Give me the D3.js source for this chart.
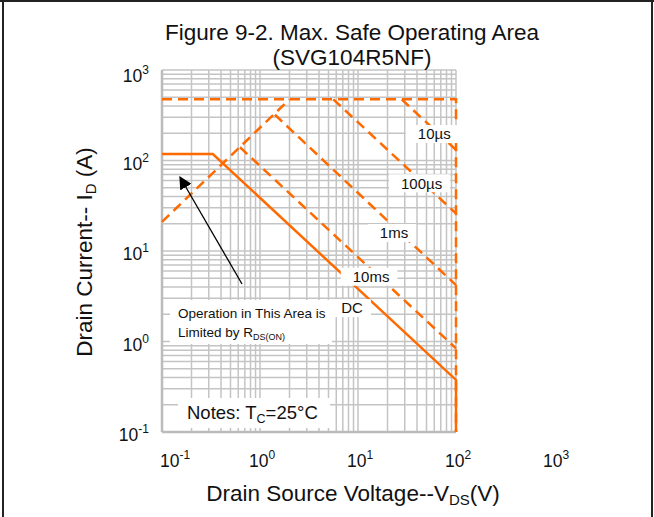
<!DOCTYPE html>
<html>
<head>
<meta charset="utf-8">
<script src="https://cdn.jsdelivr.net/npm/d3@7"></script>
<style>
  body { margin: 0; background: #fff; }
  svg { display: block; font-family: "Liberation Sans", Arial, sans-serif; }
</style>
</head>
<body>
<svg id="chart" width="654" height="517"></svg>
<script>
// x ticks (V) and y ticks (A), as decades
const xDecades = [0.1, 1, 10, 100, 1000];
const yDecades = [0.1, 1, 10, 100, 1000];
const xTickExp = ["-1", "0", "1", "2", "3"];
const yTickExp = ["-1", "0", "1", "2", "3"];

// SOA boundary lines, [V, A]
const rdsLimit = [[0.1, 21], [2.0, 474]];
const pulseLimit = [[0.1, 474], [100, 474], [100, 0.1]];
const line10us = [[27.9, 474], [100, 131]];
const line100us = [[5.6, 474], [100, 26]];
const line1ms = [[1.42, 320], [100, 4.2]];
const line10ms = [[0.625, 140], [100, 0.84]];
const lineDC = [[0.1, 118], [0.33, 118], [100, 0.376], [100, 0.1]];

const curveLabels = ["10\u00b5s", "100\u00b5s", "1ms", "10ms", "DC"];
const curveLabelV = [60, 44.5, 23.3, 13.6, 8.7];
const curveLabelA = [196, 56, 15.8, 5.2, 2.34];

const svg = d3.select("#chart");
const margin = {left: 162, right: 456, top: 70, bottom: 432};

const x = d3.scaleLog().domain([0.1, 100]).range([margin.left, margin.right]);
const y = d3.scaleLog().domain([0.1, 1000]).range([margin.bottom, margin.top]);

// outer frame (table cell borders)
svg.append("line").attr("x1", 3).attr("x2", 3).attr("y1", 0).attr("y2", 517)
  .attr("stroke", "#222").attr("stroke-width", 2);
svg.append("line").attr("x1", 652).attr("x2", 652).attr("y1", 0).attr("y2", 517)
  .attr("stroke", "#222").attr("stroke-width", 2);
svg.append("line").attr("x1", 0).attr("x2", 654).attr("y1", 1).attr("y2", 1)
  .attr("stroke", "#222").attr("stroke-width", 2);

// minor grid values
const minorVals = (decs) => {
  let out = [];
  decs.slice(0, -1).forEach(d => { for (let k = 1; k < 10; k++) out.push(d * k); });
  out.push(decs[decs.length - 1]);
  return out;
};
const xGrid = minorVals([0.1, 1, 10, 100]);
const yGrid = minorVals([0.1, 1, 10, 100, 1000]);

const grid = svg.append("g").attr("stroke", "#c4c4c4").attr("stroke-width", 1.5);
grid.selectAll(".vx").data(xGrid).join("line")
  .attr("x1", d => x(d)).attr("x2", d => x(d))
  .attr("y1", margin.top).attr("y2", margin.bottom);
grid.selectAll(".hy").data(yGrid).join("line")
  .attr("x1", margin.left).attr("x2", margin.right)
  .attr("y1", d => y(d)).attr("y2", d => y(d));

// axis lines
svg.append("line").attr("x1", margin.left).attr("x2", margin.left)
  .attr("y1", margin.top).attr("y2", margin.bottom)
  .attr("stroke", "#bbb").attr("stroke-width", 2.5);
svg.append("line").attr("x1", margin.left).attr("x2", margin.right)
  .attr("y1", margin.bottom).attr("y2", margin.bottom)
  .attr("stroke", "#bbb").attr("stroke-width", 2.5);

// text boxes that hide the grid
function whiteBox(x0, y0, w, h) {
  svg.append("rect").attr("x", x0).attr("y", y0).attr("width", w).attr("height", h).attr("fill", "#fff");
}
whiteBox(170, 300, 162, 44);
whiteBox(178, 398, 152, 30);

const orange = "#ff6a00";
const line = d3.line().x(d => x(d[0])).y(d => y(d[1]));

const dashed = [rdsLimit, pulseLimit, line10us, line100us, line1ms, line10ms];
svg.selectAll(".dash").data(dashed).join("path")
  .attr("d", line).attr("fill", "none")
  .attr("stroke", orange).attr("stroke-width", 2.5)
  .attr("stroke-dasharray", "10,6");

svg.append("path").datum(lineDC).attr("d", line).attr("fill", "none")
  .attr("stroke", orange).attr("stroke-width", 2.5);

// curve labels with white backing
const lab = svg.selectAll(".clab").data(curveLabels).join("g")
  .attr("transform", (d, i) => `translate(${x(curveLabelV[i])},${y(curveLabelA[i])})`);
lab.append("rect").attr("fill", "#fff").attr("height", 18).attr("y", -9);
lab.append("text").text(d => d).attr("text-anchor", "middle")
  .attr("dy", "0.35em").attr("font-size", 15).attr("fill", "#111");
lab.each(function() {
  const g = d3.select(this);
  const w = g.select("text").node().getComputedTextLength();
  g.select("rect").attr("x", -w / 2 - 12).attr("width", w + 20);
});

// annotation
svg.append("text").attr("x", 178).attr("y", 318).attr("font-size", 13.5).attr("fill", "#111")
  .text("Operation in This Area is");
const lim = svg.append("text").attr("x", 178).attr("y", 337).attr("font-size", 13.5).attr("fill", "#111");
lim.append("tspan").text("Limited by R");
lim.append("tspan").attr("font-size", 9).attr("dy", 3).text("DS(ON)");

svg.append("defs").append("marker").attr("id", "arr")
  .attr("viewBox", "0 0 10 10").attr("refX", 9).attr("refY", 5)
  .attr("markerWidth", 10).attr("markerHeight", 10).attr("orient", "auto")
  .append("path").attr("d", "M0,0 L10,5 L0,10 Z").attr("fill", "#000");
svg.append("line").attr("x1", 242).attr("y1", 284).attr("x2", 180).attr("y2", 177)
  .attr("stroke", "#000").attr("stroke-width", 1.3).attr("marker-end", "url(#arr)");

const note = svg.append("text").attr("x", 187).attr("y", 419).attr("font-size", 18.5).attr("fill", "#111");
note.append("tspan").text("Notes: T");
note.append("tspan").attr("font-size", 12.5).attr("dy", 4).text("C");
note.append("tspan").attr("dy", -4).text("=25\u00b0C");

// tick labels
const xt = svg.selectAll(".xt").data(xDecades).join("text")
  .attr("x", (d, i) => i === 0 ? x(d) + 13 : x(d) + 2).attr("y", 467)
  .attr("text-anchor", "middle").attr("font-size", 17.5).attr("fill", "#111");
xt.append("tspan").text("10");
xt.append("tspan").attr("font-size", 12).attr("dy", -8).text((d, i) => xTickExp[i]);

const yt = svg.selectAll(".yt").data(yDecades).join("text")
  .attr("x", 149).attr("y", (d, i) => y(d) + (i === 4 ? 12 : 9))
  .attr("text-anchor", "end").attr("font-size", 17.5).attr("fill", "#111");
yt.append("tspan").text("10");
yt.append("tspan").attr("font-size", 12).attr("dy", -8).text((d, i) => yTickExp[i]);

// titles
svg.append("text").attr("x", 352).attr("y", 40).attr("text-anchor", "middle")
  .attr("font-size", 22.5).attr("fill", "#111").text("Figure 9-2. Max. Safe Operating Area");
svg.append("text").attr("x", 352).attr("y", 65).attr("text-anchor", "middle")
  .attr("font-size", 22.5).attr("fill", "#111").text("(SVG104R5NF)");

const xl = svg.append("text").attr("x", 353).attr("y", 501).attr("text-anchor", "middle")
  .attr("font-size", 22.5).attr("fill", "#111");
xl.append("tspan").text("Drain Source Voltage--V");
xl.append("tspan").attr("font-size", 15).attr("dy", 4).text("DS");
xl.append("tspan").attr("dy", -4).text("(V)");

const yl = svg.append("text").attr("transform", "translate(92,252) rotate(-90)")
  .attr("text-anchor", "middle").attr("font-size", 22.5).attr("fill", "#111");
yl.append("tspan").text("Drain Current-- I");
yl.append("tspan").attr("font-size", 15).attr("dy", 4).text("D");
yl.append("tspan").attr("dy", -4).text(" (A)");
</script>
</body>
</html>
